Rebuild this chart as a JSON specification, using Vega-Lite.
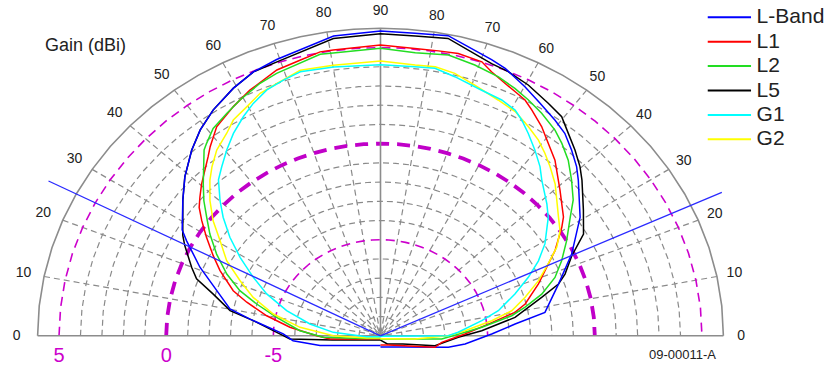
{
"$schema": "https://vega.github.io/schema/vega-lite/v6.json",
"width": 830, "height": 368, "padding": 0, "autosize": {"type": "none"},
"background": "white",
"config": {"view": {"stroke": null}, "font": "Liberation Sans"},
"datasets": {
 "gridRings": [{"gs": [-9,-8,-7,-6,-4,-3,-2,-1,1,2,3,4], "as": [0,5,10,15,20,25,30,35,40,45,50,55,60,65,70,75,80,85,90,95,100,105,110,115,120,125,130,135,140,145,150,155,160,165,170,175,180]}],
 "magThin": [{"gs": [-5,5], "as": [0,5,10,15,20,25,30,35,40,45,50,55,60,65,70,75,80,85,90,95,100,105,110,115,120,125,130,135,140,145,150,155,160,165,170,175,180]}],
 "magThick": [{"gs": [0], "as": [0,5,10,15,20,25,30,35,40,45,50,55,60,65,70,75,80,85,90,95,100,105,110,115,120,125,130,135,140,145,150,155,160,165,170,175,180]}],
 "outer": [{"gs": [6], "as": [0,5,10,15,20,25,30,35,40,45,50,55,60,65,70,75,80,85,90,95,100,105,110,115,120,125,130,135,140,145,150,155,160,165,170,175,180]}],
 "spokes": [{"as": [10,20,30,40,50,60,70,80,100,110,120,130,140,150,160,170], "gs": [6,-10]}],
 "axesSolid": [{"as": [0,90,180], "gs": [6,-10]}],
 "refs": [{"s":"left","a":25,"g":-10},{"s":"left","a":25,"g":7.46},{"s":"right","a":157.2,"g":-10},{"s":"right","a":157.2,"g":7.59}],
 "angles": [{"e":0},{"e":10},{"e":20},{"e":30},{"e":40},{"e":50},{"e":60},{"e":70},{"e":80},{"e":90}],
 "dbLabels": [{"t":"5","g":5},{"t":"0","g":0},{"t":"-5","g":-5}],
 "legendItems": [{"s":"L-Band","k":0},{"s":"L1","k":1},{"s":"L2","k":2},{"s":"L5","k":3},{"s":"G1","k":4},{"s":"G2","k":5}],
 "curves": [
  {"s":"L5","a":-90,"g":-9.78},{"s":"L5","a":-15,"g":-9.24},{"s":"L5","a":-5,"g":-7.75},{"s":"L5","a":-2.0,"g":-5.77},{"s":"L5","a":0.1,"g":-5.46},{"s":"L5","a":6.8,"g":-4.01},{"s":"L5","a":9.5,"g":-2.86},{"s":"L5","a":14.0,"g":-1.90},{"s":"L5","a":17.2,"g":-0.92},{"s":"L5","a":19.9,"g":-0.50},{"s":"L5","a":24.7,"g":0.26},{"s":"L5","a":26.9,"g":0.60},{"s":"L5","a":34.5,"g":1.62},{"s":"L5","a":39.1,"g":2.32},{"s":"L5","a":44.5,"g":3.07},{"s":"L5","a":48.8,"g":3.62},{"s":"L5","a":53.5,"g":4.11},{"s":"L5","a":59.3,"g":4.60},{"s":"L5","a":64.3,"g":4.96},{"s":"L5","a":69.3,"g":5.05},{"s":"L5","a":81.0,"g":5.62},{"s":"L5","a":90,"g":5.72},{"s":"L5","a":96.6,"g":5.68},{"s":"L5","a":102.8,"g":5.79},{"s":"L5","a":112.2,"g":5.08},{"s":"L5","a":115.8,"g":4.98},{"s":"L5","a":120.5,"g":4.76},{"s":"L5","a":125.8,"g":4.41},{"s":"L5","a":129.6,"g":4.19},{"s":"L5","a":132.8,"g":3.71},{"s":"L5","a":136.3,"g":3.26},{"s":"L5","a":139.7,"g":2.81},{"s":"L5","a":142.3,"g":2.41},{"s":"L5","a":148.2,"g":1.51},{"s":"L5","a":153.4,"g":0.85},{"s":"L5","a":157.3,"g":-0.15},{"s":"L5","a":161.5,"g":-0.81},{"s":"L5","a":163.8,"g":-1.27},{"s":"L5","a":166.6,"g":-2.22},{"s":"L5","a":172.2,"g":-3.65},{"s":"L5","a":177.1,"g":-5.27},{"s":"L5","a":181.1,"g":-6.37},{"s":"L5","a":190.3,"g":-7.41},{"s":"L5","a":200,"g":-8.87},{"s":"L5","a":230,"g":-9.47},{"s":"L5","a":270,"g":-9.78},
  {"s":"L-Band","a":-90,"g":-9.5},{"s":"L-Band","a":-20,"g":-8.66},{"s":"L-Band","a":-9.1,"g":-7.13},{"s":"L-Band","a":-3.2,"g":-5.91},{"s":"L-Band","a":1.1,"g":-5.46},{"s":"L-Band","a":7.3,"g":-3.85},{"s":"L-Band","a":10.1,"g":-2.84},{"s":"L-Band","a":16.7,"g":-1.77},{"s":"L-Band","a":20.8,"g":-0.85},{"s":"L-Band","a":26.1,"g":0.31},{"s":"L-Band","a":28.1,"g":0.77},{"s":"L-Band","a":34.5,"g":1.62},{"s":"L-Band","a":39.1,"g":2.32},{"s":"L-Band","a":44.5,"g":3.07},{"s":"L-Band","a":48.8,"g":3.62},{"s":"L-Band","a":53.5,"g":4.11},{"s":"L-Band","a":59.3,"g":4.60},{"s":"L-Band","a":64.3,"g":4.96},{"s":"L-Band","a":69.4,"g":5.17},{"s":"L-Band","a":81.1,"g":5.75},{"s":"L-Band","a":90,"g":5.86},{"s":"L-Band","a":96.5,"g":5.82},{"s":"L-Band","a":102.7,"g":5.93},{"s":"L-Band","a":111.9,"g":5.28},{"s":"L-Band","a":115.0,"g":5.08},{"s":"L-Band","a":120.1,"g":4.61},{"s":"L-Band","a":124.4,"g":4.21},{"s":"L-Band","a":129.0,"g":3.86},{"s":"L-Band","a":132.3,"g":3.60},{"s":"L-Band","a":135.8,"g":3.15},{"s":"L-Band","a":139.2,"g":2.70},{"s":"L-Band","a":141.8,"g":2.28},{"s":"L-Band","a":149.3,"g":1.17},{"s":"L-Band","a":156.8,"g":-0.11},{"s":"L-Band","a":163.8,"g":-1.27},{"s":"L-Band","a":171.9,"g":-2.23},{"s":"L-Band","a":175.0,"g":-3.69},{"s":"L-Band","a":179.1,"g":-4.81},{"s":"L-Band","a":185.5,"g":-6.03},{"s":"L-Band","a":189.6,"g":-6.78},{"s":"L-Band","a":210,"g":-8.92},{"s":"L-Band","a":270,"g":-9.42},
  {"s":"L1","a":-90,"g":-9.83},{"s":"L1","a":-10,"g":-9.14},{"s":"L1","a":-3.6,"g":-7.64},{"s":"L1","a":0.1,"g":-7.02},{"s":"L1","a":5.4,"g":-5.75},{"s":"L1","a":10.0,"g":-4.59},{"s":"L1","a":14.1,"g":-3.52},{"s":"L1","a":17.0,"g":-2.74},{"s":"L1","a":22.1,"g":-1.78},{"s":"L1","a":25.6,"g":-1.15},{"s":"L1","a":29.5,"g":-0.40},{"s":"L1","a":32.8,"g":0.27},{"s":"L1","a":35.3,"g":0.78},{"s":"L1","a":37.5,"g":1.09},{"s":"L1","a":40.3,"g":1.49},{"s":"L1","a":46.1,"g":2.31},{"s":"L1","a":48.0,"g":2.65},{"s":"L1","a":51.9,"g":3.29},{"s":"L1","a":57.3,"g":3.76},{"s":"L1","a":62.0,"g":4.16},{"s":"L1","a":68.7,"g":4.65},{"s":"L1","a":73.7,"g":4.82},{"s":"L1","a":78.0,"g":5.04},{"s":"L1","a":80.6,"g":5.03},{"s":"L1","a":90,"g":5.13},{"s":"L1","a":96.8,"g":5.04},{"s":"L1","a":101.5,"g":5.07},{"s":"L1","a":105.4,"g":5.13},{"s":"L1","a":110.3,"g":5.02},{"s":"L1","a":112.8,"g":4.68},{"s":"L1","a":116.3,"g":4.36},{"s":"L1","a":118.9,"g":4.17},{"s":"L1","a":121.5,"g":4.00},{"s":"L1","a":123.8,"g":3.71},{"s":"L1","a":127.6,"g":3.23},{"s":"L1","a":131.1,"g":2.71},{"s":"L1","a":134.8,"g":2.24},{"s":"L1","a":140.9,"g":1.30},{"s":"L1","a":147.0,"g":0.54},{"s":"L1","a":149.1,"g":0.17},{"s":"L1","a":154.0,"g":-0.73},{"s":"L1","a":157.6,"g":-1.47},{"s":"L1","a":161.8,"g":-2.15},{"s":"L1","a":167.6,"g":-3.05},{"s":"L1","a":170.1,"g":-3.61},{"s":"L1","a":173.8,"g":-4.93},{"s":"L1","a":178.8,"g":-6.06},{"s":"L1","a":186.1,"g":-7.12},{"s":"L1","a":191.9,"g":-7.39},{"s":"L1","a":230,"g":-9.4},{"s":"L1","a":270,"g":-9.52},
  {"s":"L2","a":-90,"g":-9.86},{"s":"L2","a":-8,"g":-9.09},{"s":"L2","a":-1.5,"g":-7.33},{"s":"L2","a":3.6,"g":-6.23},{"s":"L2","a":10.1,"g":-5.06},{"s":"L2","a":14.4,"g":-3.99},{"s":"L2","a":17.8,"g":-3.03},{"s":"L2","a":21.9,"g":-2.14},{"s":"L2","a":26.5,"g":-1.25},{"s":"L2","a":30.8,"g":-0.44},{"s":"L2","a":34.3,"g":0.19},{"s":"L2","a":37.4,"g":0.83},{"s":"L2","a":40.6,"g":1.44},{"s":"L2","a":46.5,"g":2.70},{"s":"L2","a":47.9,"g":2.89},{"s":"L2","a":51.1,"g":3.32},{"s":"L2","a":55.4,"g":3.62},{"s":"L2","a":59.2,"g":3.91},{"s":"L2","a":64.5,"g":4.29},{"s":"L2","a":68.4,"g":4.49},{"s":"L2","a":77.9,"g":4.92},{"s":"L2","a":80.5,"g":4.88},{"s":"L2","a":90,"g":4.96},{"s":"L2","a":97.0,"g":4.82},{"s":"L2","a":103.6,"g":4.95},{"s":"L2","a":109.2,"g":4.76},{"s":"L2","a":114.5,"g":4.55},{"s":"L2","a":118.5,"g":4.32},{"s":"L2","a":122.1,"g":4.08},{"s":"L2","a":125.9,"g":3.81},{"s":"L2","a":130.3,"g":3.45},{"s":"L2","a":133.3,"g":3.11},{"s":"L2","a":136.9,"g":2.66},{"s":"L2","a":140.8,"g":2.05},{"s":"L2","a":144.8,"g":1.44},{"s":"L2","a":148.0,"g":0.79},{"s":"L2","a":152.9,"g":0.00},{"s":"L2","a":157.5,"g":-0.69},{"s":"L2","a":161.5,"g":-1.31},{"s":"L2","a":165.5,"g":-2.17},{"s":"L2","a":168.8,"g":-3.09},{"s":"L2","a":171.3,"g":-3.79},{"s":"L2","a":175.2,"g":-5.25},{"s":"L2","a":177.6,"g":-6.05},{"s":"L2","a":183.0,"g":-7.14},{"s":"L2","a":190,"g":-9.14},{"s":"L2","a":270,"g":-9.83},
  {"s":"G2","a":-90,"g":-9.89},{"s":"G2","a":-9.1,"g":-9.35},{"s":"G2","a":0.1,"g":-7.80},{"s":"G2","a":6.0,"g":-6.22},{"s":"G2","a":11.5,"g":-4.87},{"s":"G2","a":16.8,"g":-3.73},{"s":"G2","a":21.4,"g":-2.85},{"s":"G2","a":26.0,"g":-1.83},{"s":"G2","a":30.7,"g":-1.02},{"s":"G2","a":34.5,"g":-0.16},{"s":"G2","a":38.4,"g":0.62},{"s":"G2","a":42.4,"g":1.36},{"s":"G2","a":45.1,"g":1.80},{"s":"G2","a":48.6,"g":2.32},{"s":"G2","a":52.8,"g":2.75},{"s":"G2","a":55.7,"g":3.16},{"s":"G2","a":59.7,"g":3.45},{"s":"G2","a":63.6,"g":3.81},{"s":"G2","a":67.7,"g":3.99},{"s":"G2","a":73.2,"g":4.32},{"s":"G2","a":80.1,"g":4.25},{"s":"G2","a":90,"g":4.30},{"s":"G2","a":97.3,"g":4.18},{"s":"G2","a":101.5,"g":4.23},{"s":"G2","a":105.8,"g":4.09},{"s":"G2","a":110.6,"g":3.77},{"s":"G2","a":116.5,"g":3.44},{"s":"G2","a":121.0,"g":3.25},{"s":"G2","a":125.3,"g":2.88},{"s":"G2","a":128.9,"g":2.57},{"s":"G2","a":132.0,"g":2.21},{"s":"G2","a":135.1,"g":1.83},{"s":"G2","a":139.0,"g":1.35},{"s":"G2","a":146.3,"g":0.35},{"s":"G2","a":149.7,"g":0.00},{"s":"G2","a":153.3,"g":-0.57},{"s":"G2","a":156.8,"g":-1.33},{"s":"G2","a":160.8,"g":-2.10},{"s":"G2","a":165.1,"g":-2.96},{"s":"G2","a":169.2,"g":-3.74},{"s":"G2","a":172.3,"g":-4.75},{"s":"G2","a":176.6,"g":-6.05},{"s":"G2","a":179.9,"g":-6.84},{"s":"G2","a":185.3,"g":-8.38},{"s":"G2","a":270,"g":-9.85},
  {"s":"G1","a":-90,"g":-9.95},{"s":"G1","a":-3.7,"g":-9.35},{"s":"G1","a":4.2,"g":-7.79},{"s":"G1","a":9.5,"g":-6.65},{"s":"G1","a":15.0,"g":-5.43},{"s":"G1","a":20.2,"g":-4.26},{"s":"G1","a":24.7,"g":-3.33},{"s":"G1","a":29.2,"g":-2.28},{"s":"G1","a":33.2,"g":-1.30},{"s":"G1","a":37.0,"g":-0.41},{"s":"G1","a":40.1,"g":0.27},{"s":"G1","a":43.9,"g":1.09},{"s":"G1","a":46.8,"g":1.50},{"s":"G1","a":50.4,"g":2.04},{"s":"G1","a":54.0,"g":2.57},{"s":"G1","a":58.0,"g":3.08},{"s":"G1","a":61.3,"g":3.47},{"s":"G1","a":65.2,"g":3.85},{"s":"G1","a":69.2,"g":4.05},{"s":"G1","a":73.1,"g":4.24},{"s":"G1","a":80.1,"g":4.16},{"s":"G1","a":90,"g":4.10},{"s":"G1","a":97.3,"g":4.09},{"s":"G1","a":101.5,"g":4.15},{"s":"G1","a":106.0,"g":3.92},{"s":"G1","a":112.4,"g":3.62},{"s":"G1","a":117.2,"g":3.51},{"s":"G1","a":120.8,"g":3.32},{"s":"G1","a":123.2,"g":3.02},{"s":"G1","a":126.1,"g":2.59},{"s":"G1","a":129.7,"g":2.06},{"s":"G1","a":133.3,"g":1.53},{"s":"G1","a":136.0,"g":1.06},{"s":"G1","a":141.6,"g":0.36},{"s":"G1","a":144.8,"g":-0.04},{"s":"G1","a":150.8,"g":-0.96},{"s":"G1","a":154.6,"g":-1.66},{"s":"G1","a":158.4,"g":-2.46},{"s":"G1","a":162.7,"g":-3.36},{"s":"G1","a":168.0,"g":-4.35},{"s":"G1","a":171.5,"g":-5.21},{"s":"G1","a":177.4,"g":-6.37},{"s":"G1","a":179.9,"g":-6.84},{"s":"G1","a":190,"g":-9.86},{"s":"G1","a":270,"g":-9.97}
 ]
},
"encoding": {
 "x": {"field": "x", "type": "quantitative", "scale": {"domain": [-17.755, 20.975], "nice": false, "zero": false}, "axis": null},
 "y": {"field": "y", "type": "quantitative", "scale": {"domain": [-1.675, 17.472], "nice": false, "zero": false}, "axis": null}
},
"layer": [
 {"data": {"name": "gridRings"},
  "transform": [{"flatten": ["gs"], "as": ["g"]}, {"flatten": ["as"], "as": ["a"]},
   {"calculate": "datum.a*PI/180", "as": "rad"}, {"calculate": "sqrt(0.8044*pow(cos(datum.rad),2)+pow(sin(datum.rad),2))", "as": "den"},
   {"calculate": "-(datum.g+10)*cos(datum.rad)*0.8969/datum.den", "as": "x"}, {"calculate": "(datum.g+10)*sin(datum.rad)/datum.den", "as": "y"}],
  "mark": {"type": "line", "color": "#8a8a8a", "strokeWidth": 1.2, "strokeDash": [6, 4]},
  "encoding": {"detail": {"field": "g", "type": "nominal"}, "order": {"field": "a", "type": "quantitative"}}},
 {"data": {"name": "spokes"},
  "transform": [{"flatten": ["as"], "as": ["a"]}, {"flatten": ["gs"], "as": ["g"]},
   {"calculate": "datum.a*PI/180", "as": "rad"}, {"calculate": "sqrt(0.8044*pow(cos(datum.rad),2)+pow(sin(datum.rad),2))", "as": "den"},
   {"calculate": "-(datum.g+10)*cos(datum.rad)*0.8969/datum.den", "as": "x"}, {"calculate": "(datum.g+10)*sin(datum.rad)/datum.den", "as": "y"}],
  "mark": {"type": "line", "color": "#8a8a8a", "strokeWidth": 1.2, "strokeDash": [6, 4]},
  "encoding": {"detail": {"field": "a", "type": "nominal"}, "order": {"field": "g", "type": "quantitative", "sort": "descending"}}},
 {"data": {"name": "magThin"},
  "transform": [{"flatten": ["gs"], "as": ["g"]}, {"flatten": ["as"], "as": ["a"]},
   {"calculate": "datum.a*PI/180", "as": "rad"}, {"calculate": "sqrt(0.8044*pow(cos(datum.rad),2)+pow(sin(datum.rad),2))", "as": "den"},
   {"calculate": "-(datum.g+10)*cos(datum.rad)*0.8969/datum.den", "as": "x"}, {"calculate": "(datum.g+10)*sin(datum.rad)/datum.den", "as": "y"}],
  "mark": {"type": "line", "color": "#cc00cc", "strokeWidth": 1.6, "strokeDash": [9, 6]},
  "encoding": {"detail": {"field": "g", "type": "nominal"}, "order": {"field": "a", "type": "quantitative"}}},
 {"data": {"name": "magThick"},
  "transform": [{"flatten": ["gs"], "as": ["g"]}, {"flatten": ["as"], "as": ["a"]},
   {"calculate": "datum.a*PI/180", "as": "rad"}, {"calculate": "sqrt(0.8044*pow(cos(datum.rad),2)+pow(sin(datum.rad),2))", "as": "den"},
   {"calculate": "-(datum.g+10)*cos(datum.rad)*0.8969/datum.den", "as": "x"}, {"calculate": "(datum.g+10)*sin(datum.rad)/datum.den", "as": "y"}],
  "mark": {"type": "line", "color": "#c000c8", "strokeWidth": 3.8, "strokeDash": [13, 8]},
  "encoding": {"detail": {"field": "g", "type": "nominal"}, "order": {"field": "a", "type": "quantitative"}}},
 {"data": {"name": "outer"},
  "transform": [{"flatten": ["gs"], "as": ["g"]}, {"flatten": ["as"], "as": ["a"]},
   {"calculate": "datum.a*PI/180", "as": "rad"}, {"calculate": "sqrt(0.8044*pow(cos(datum.rad),2)+pow(sin(datum.rad),2))", "as": "den"},
   {"calculate": "-(datum.g+10)*cos(datum.rad)*0.8969/datum.den", "as": "x"}, {"calculate": "(datum.g+10)*sin(datum.rad)/datum.den", "as": "y"}],
  "mark": {"type": "line", "color": "#8c8c8c", "strokeWidth": 1.6},
  "encoding": {"detail": {"field": "g", "type": "nominal"}, "order": {"field": "a", "type": "quantitative"}}},
 {"data": {"name": "axesSolid"},
  "transform": [{"flatten": ["as"], "as": ["a"]}, {"flatten": ["gs"], "as": ["g"]},
   {"calculate": "datum.a*PI/180", "as": "rad"}, {"calculate": "sqrt(0.8044*pow(cos(datum.rad),2)+pow(sin(datum.rad),2))", "as": "den"},
   {"calculate": "-(datum.g+10)*cos(datum.rad)*0.8969/datum.den", "as": "x"}, {"calculate": "(datum.g+10)*sin(datum.rad)/datum.den", "as": "y"}],
  "mark": {"type": "line", "color": "#8c8c8c", "strokeWidth": 1.6},
  "encoding": {"detail": {"field": "a", "type": "nominal"}, "order": {"field": "g", "type": "quantitative", "sort": "descending"}}},
 {"data": {"name": "curves"},
  "transform": [
   {"calculate": "datum.a*PI/180", "as": "rad"}, {"calculate": "sqrt(0.8044*pow(cos(datum.rad),2)+pow(sin(datum.rad),2))", "as": "den"},
   {"calculate": "-(datum.g+10)*cos(datum.rad)*0.8969/datum.den", "as": "x"}, {"calculate": "(datum.g+10)*sin(datum.rad)/datum.den", "as": "y"}],
  "mark": {"type": "line", "strokeWidth": 1.5},
  "encoding": {
   "color": {"field": "s", "type": "nominal",
    "scale": {"domain": ["L-Band", "L1", "L2", "L5", "G1", "G2"], "range": ["#0000ff", "#ff0000", "#22dd22", "#000000", "#00ffff", "#ffff00"]},
    "legend": null},
   "order": {"field": "a", "type": "quantitative"}}},
 {"data": {"name": "refs"},
  "transform": [
   {"calculate": "datum.a*PI/180", "as": "rad"}, {"calculate": "sqrt(0.8044*pow(cos(datum.rad),2)+pow(sin(datum.rad),2))", "as": "den"},
   {"calculate": "-(datum.g+10)*cos(datum.rad)*0.8969/datum.den", "as": "x"}, {"calculate": "(datum.g+10)*sin(datum.rad)/datum.den", "as": "y"}],
  "mark": {"type": "line", "color": "#2a2aff", "strokeWidth": 1.3},
  "encoding": {"detail": {"field": "s", "type": "nominal"}, "order": {"field": "g", "type": "quantitative"}}},
 {"data": {"name": "legendItems"},
  "transform": [{"calculate": "15.27", "as": "x"}, {"calculate": "17.29", "as": "x2"}, {"calculate": "(318.5 - 24.4*datum.k)/19.22", "as": "y"}],
  "mark": {"type": "rule", "strokeWidth": 2},
  "encoding": {"x2": {"field": "x2"}, "color": {"field": "s", "type": "nominal", "legend": null}}},
 {"data": {"name": "legendItems"},
  "transform": [{"calculate": "17.55", "as": "x"}, {"calculate": "(318.5 - 24.4*datum.k)/19.22", "as": "y"}],
  "mark": {"type": "text", "font": "Liberation Sans", "fontSize": 21, "align": "left", "baseline": "middle", "color": "#222222"},
  "encoding": {"text": {"field": "s", "type": "nominal"}}},
 {"data": {"name": "angles"},
  "transform": [{"filter": "datum.e < 90"}, {"calculate": "datum.e", "as": "a"}, {"calculate": "6.98", "as": "g"},
   {"calculate": "datum.a*PI/180", "as": "rad"}, {"calculate": "sqrt(0.8044*pow(cos(datum.rad),2)+pow(sin(datum.rad),2))", "as": "den"},
   {"calculate": "-(datum.g+10)*cos(datum.rad)*0.8969/datum.den", "as": "x"}, {"calculate": "(datum.g+10)*sin(datum.rad)/datum.den", "as": "y"}],
  "mark": {"type": "text", "font": "Liberation Sans", "fontSize": 14, "align": "center", "baseline": "middle", "color": "#222222"},
  "encoding": {"text": {"field": "e", "type": "quantitative"}}},
 {"data": {"name": "angles"},
  "transform": [{"filter": "datum.e < 90"}, {"calculate": "180 - datum.e", "as": "a"}, {"calculate": "6.83", "as": "g"},
   {"calculate": "datum.a*PI/180", "as": "rad"}, {"calculate": "sqrt(0.8044*pow(cos(datum.rad),2)+pow(sin(datum.rad),2))", "as": "den"},
   {"calculate": "-(datum.g+10)*cos(datum.rad)*0.8969/datum.den", "as": "x"}, {"calculate": "(datum.g+10)*sin(datum.rad)/datum.den", "as": "y"}],
  "mark": {"type": "text", "font": "Liberation Sans", "fontSize": 14, "align": "center", "baseline": "middle", "color": "#222222"},
  "encoding": {"text": {"field": "e", "type": "quantitative"}}},
 {"data": {"name": "angles"},
  "transform": [{"filter": "datum.e == 90"}, {"calculate": "90", "as": "a"}, {"calculate": "6.9", "as": "g"},
   {"calculate": "datum.a*PI/180", "as": "rad"}, {"calculate": "sqrt(0.8044*pow(cos(datum.rad),2)+pow(sin(datum.rad),2))", "as": "den"},
   {"calculate": "-(datum.g+10)*cos(datum.rad)*0.8969/datum.den", "as": "x"}, {"calculate": "(datum.g+10)*sin(datum.rad)/datum.den", "as": "y"}],
  "mark": {"type": "text", "font": "Liberation Sans", "fontSize": 14, "align": "center", "baseline": "middle", "color": "#222222"},
  "encoding": {"text": {"field": "e", "type": "quantitative"}}},
 {"data": {"name": "dbLabels"},
  "transform": [{"calculate": "-(datum.g+10)", "as": "x"}, {"calculate": "-1.04", "as": "y"}],
  "mark": {"type": "text", "font": "Liberation Sans", "fontSize": 20, "align": "center", "baseline": "middle", "color": "#cc00cc"},
  "encoding": {"text": {"field": "t", "type": "nominal"}}},
 {"data": {"values": [{"t": "Gain (dBi)"}]},
  "transform": [{"calculate": "-13.77", "as": "x"}, {"calculate": "15.09", "as": "y"}],
  "mark": {"type": "text", "font": "Liberation Sans", "fontSize": 18, "align": "center", "baseline": "middle", "color": "#222222"},
  "encoding": {"text": {"field": "t", "type": "nominal"}}},
 {"data": {"values": [{"t": "09-00011-A"}]},
  "transform": [{"calculate": "14.09", "as": "x"}, {"calculate": "-1.0", "as": "y"}],
  "mark": {"type": "text", "font": "Liberation Sans", "fontSize": 13, "align": "center", "baseline": "middle", "color": "#222222"},
  "encoding": {"text": {"field": "t", "type": "nominal"}}}
]
}
